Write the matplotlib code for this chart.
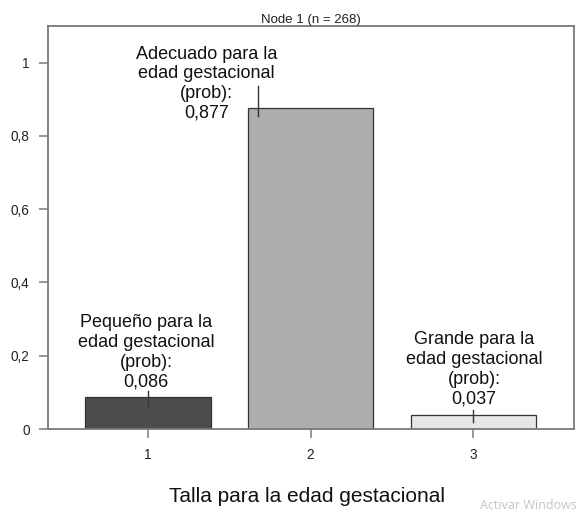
import matplotlib
matplotlib.use("Agg")
import matplotlib.pyplot as plt

plt.rcParams['font.family'] = ['Liberation Sans', 'DejaVu Sans']

# Data
categories = [1, 2, 3]
probs = [0.086, 0.877, 0.037]
class_names = ["Pequeño para la\nedad gestacional",
               "Adecuado para la\nedad gestacional",
               "Grande para la\nedad gestacional"]
bar_colors = ["#4d4d4d", "#aeaeae", "#e6e6e6"]
yticks = [0, 0.2, 0.4, 0.6, 0.8, 1.0]
ytick_labels = ["0", "0,2", "0,4", "0,6", "0,8", "1"]
title = "Node 1 (n = 268)"
xlabel = "Talla para la edad gestacional"

# label placement (offsets in points) and leader segments (offsets in data units)
text_offsets = [(-1.4, 5.2), (-75.0, -9.9), (0.7, 5.9)]
seg_dx = [0.0, -0.323, 0.0]
seg_dy = [(-0.022, 0.019), (-0.022, 0.060), (-0.019, 0.016)]

fig = plt.figure(figsize=(5.84, 5.11), dpi=100)
ax = fig.add_axes([48/584, (511-429)/511, (574-48)/584, (429-26)/511])

ax.bar(categories, probs, width=0.77, color=bar_colors,
       edgecolor="#333333", linewidth=0.9, zorder=2)

ax.set_xlim(0.385, 3.62)
ax.set_ylim(0, 1.1)
ax.set_xticks(categories)
ax.set_xticklabels([str(c) for c in categories])
ax.set_yticks(yticks)
ax.set_yticklabels(ytick_labels)

frame_col = "#7a7a7a"
for s in ax.spines.values():
    s.set_color(frame_col)
    s.set_linewidth(1.3)
ax.tick_params(axis='both', length=6.5, width=1.1, color=frame_col,
               labelsize=9.8, labelcolor="#222222")
ax.tick_params(axis='y', pad=6.8)
ax.tick_params(axis='x', pad=7)

ax.set_title(title, fontsize=9.5, pad=1.5, color="#222222")

for x, p, name, off, dx, (lo, hi) in zip(categories, probs, class_names,
                                          text_offsets, seg_dx, seg_dy):
    label = f"{name}\n(prob):\n{p:.3f}".replace(".", ",")
    ax.annotate(label, xy=(x, p), xytext=off, textcoords="offset points",
                ha="center", va="bottom", fontsize=13, linespacing=1.2,
                color="#111111", zorder=3)
    ax.plot([x + dx, x + dx], [p + lo, p + hi], color="#333333",
            linewidth=1.0, zorder=4)

ax.set_xlabel(xlabel, fontsize=15, color="#111111", va="baseline")
ax.xaxis.set_label_coords((307-48)/526, (429-502)/403)

fig.text(480/584, 1 - 509/511, "Activar Windows", fontsize=9,
         color="#c4c4c4", va="baseline", family=["Open Sans", "DejaVu Sans"])

fig.savefig("out.png", dpi=100)
